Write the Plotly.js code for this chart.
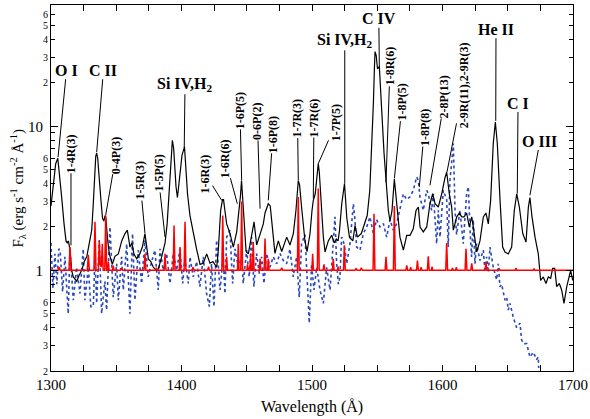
<!DOCTYPE html>
<html>
<head>
<meta charset="utf-8">
<script src="https://cdn.plot.ly/plotly-3.0.1.min.js"></script>
<style>html,body{margin:0;padding:0;background:#fff;}#chart{width:590px;height:419px;}</style>
</head>
<body>
<div id="chart"></div>
<script>
// ---- Observed spectrum (black, solid) ----
var obsWave = [1300.0,1302.0,1303.6,1305.2,1306.6,1308.2,1310.0,1311.5,1312.5,1313.3,1314.5,1315.8,1317.1,1319.7,1321.5,1323.5,1325.5,1327.4,1329.1,1330.5,1331.2,1332.4,1333.4,1334.3,1335.0,1335.8,1336.6,1337.5,1338.5,1339.5,1340.5,1341.4,1342.0,1343.5,1344.7,1347.0,1349.0,1351.6,1354.2,1356.7,1358.5,1360.5,1362.0,1363.5,1365.7,1368.0,1370.0,1372.0,1373.0,1374.6,1376.5,1378.4,1380.5,1382.2,1384.8,1387.4,1389.0,1390.0,1391.0,1392.0,1393.0,1394.0,1395.0,1395.8,1396.9,1398.4,1400.4,1402.3,1403.6,1404.6,1406.5,1409.0,1411.6,1414.2,1416.7,1419.3,1421.8,1424.1,1427.0,1428.2,1430.0,1431.4,1432.2,1433.5,1434.6,1437.2,1439.7,1442.3,1444.1,1445.2,1446.0,1447.1,1448.2,1449.5,1451.2,1453.8,1455.6,1457.6,1460.2,1462.7,1464.0,1466.5,1468.0,1469.1,1471.6,1474.2,1476.8,1480.6,1483.1,1485.7,1487.7,1489.5,1490.5,1492.1,1494.6,1496.2,1498.5,1500.0,1501.0,1502.5,1503.8,1504.8,1505.6,1506.7,1508.7,1510.0,1512.5,1515.1,1517.0,1518.6,1520.0,1521.1,1522.8,1524.9,1526.0,1526.7,1528.7,1531.3,1533.0,1534.8,1537.8,1540.3,1542.3,1544.3,1545.5,1546.3,1547.1,1547.8,1548.3,1549.2,1550.2,1551.6,1552.5,1553.4,1555.2,1556.7,1558.5,1559.8,1561.3,1563.1,1564.9,1567.4,1570.0,1572.6,1575.1,1577.6,1579.7,1581.5,1582.8,1585.3,1587.9,1590.4,1592.5,1594.3,1596.8,1599.4,1601.9,1603.2,1605.2,1607.0,1608.3,1610.9,1612.9,1614.7,1616.5,1618.5,1620.5,1622.4,1623.6,1626.2,1628.7,1631.3,1633.3,1635.1,1636.9,1638.9,1640.5,1642.0,1644.1,1646.1,1647.9,1650.4,1653.0,1655.0,1656.9,1658.9,1661.5,1664.0,1665.8,1667.0,1668.6,1670.9,1673.4,1675.2,1677.2,1679.3,1681.1,1682.9,1684.4,1686.0,1687.5,1689.5,1691.3,1693.1,1695.2,1696.9,1698.2,1699.8];
var obsFlux = [2.8,4.0,5.5,6.0,4.6,3.2,2.1,1.6,1.55,1.6,1.4,1.0,0.9,0.84,0.92,1.0,1.15,1.24,1.5,1.75,1.9,2.9,4.5,6.2,6.5,6.0,4.8,3.6,2.9,2.3,2.2,2.4,2.3,1.6,1.3,1.1,1.25,1.3,1.6,1.8,1.9,1.45,1.55,1.3,1.2,1.3,1.45,1.8,1.5,1.2,1.15,1.05,1.0,1.02,1.24,1.55,2.1,3.0,4.5,6.5,8.0,7.0,4.8,3.8,3.2,4.3,6.3,7.2,5.0,3.4,2.4,1.8,1.4,1.1,1.12,1.3,1.12,1.15,1.05,1.38,2.6,3.1,3.1,2.5,2.1,1.8,1.45,1.85,2.6,3.3,4.2,3.0,2.0,1.35,1.3,1.8,2.17,1.5,1.8,2.1,2.5,2.9,2.8,2.2,1.31,1.6,1.35,1.7,1.5,1.8,2.6,4.2,3.9,2.7,1.6,1.35,1.8,2.6,3.06,3.4,4.6,5.5,4.8,3.1,1.7,1.34,1.6,1.75,1.55,1.65,1.6,1.9,2.9,4.0,3.0,2.3,1.7,1.6,2.05,1.7,1.8,2.1,2.4,3.6,6.0,9.0,15,25,33,31,25,26,20,13,6.5,4.0,2.6,2.2,2.6,4.3,2.9,1.7,1.38,1.75,1.75,1.94,2.6,2.75,2.0,1.85,2.0,2.9,3.4,2.9,2.75,3.4,4.4,4.8,3.4,2.75,1.9,2.35,2.5,2.35,2.35,2.5,2.0,2.35,2.0,1.34,1.6,2.35,2.5,2.1,3.06,7.6,10.7,7.6,3.06,1.45,1.34,1.3,1.45,2.6,3.4,2.75,1.8,1.57,2.75,3.2,2.35,1.7,1.3,0.85,0.9,0.81,0.9,0.88,1.03,1.03,0.77,0.81,0.73,0.59,0.77,0.9,1.0,0.85];

// ---- Comparison spectrum (blue, dotted) ----
var cmpWave = [1300.0,1301.5,1303.0,1304.5,1306.0,1307.0,1308.9,1310.7,1313.2,1314.5,1317.1,1319.6,1322.2,1324.7,1326.0,1328.6,1330.5,1332.4,1333.7,1335.0,1337.0,1338.8,1341.3,1342.6,1345.2,1347.7,1350.3,1351.6,1354.1,1355.4,1358.0,1360.5,1362.5,1364.3,1366.9,1369.4,1372.0,1374.5,1377.1,1379.6,1382.2,1383.5,1386.0,1388.6,1391.2,1393.7,1396.3,1398.8,1400.9,1402.6,1405.2,1406.5,1409.0,1411.6,1414.1,1416.7,1419.2,1421.3,1423.0,1424.9,1426.9,1429.5,1432.0,1433.3,1434.6,1437.1,1439.2,1441.0,1443.5,1446.1,1447.3,1449.9,1451.9,1453.7,1455.5,1457.5,1459.6,1461.4,1463.2,1465.2,1467.8,1470.3,1472.9,1475.4,1478.0,1480.5,1483.1,1485.6,1488.2,1490.2,1492.0,1494.6,1497.1,1497.9,1499.7,1501.5,1503.6,1506.1,1508.7,1511.2,1513.8,1516.3,1517.6,1518.9,1520.2,1521.4,1522.7,1524.0,1525.3,1526.6,1529.1,1531.7,1532.9,1534.2,1536.8,1539.3,1541.9,1544.4,1547.0,1549.5,1552.1,1554.7,1557.2,1559.8,1562.3,1564.9,1567.4,1570.0,1572.5,1575.1,1577.6,1580.2,1581.5,1582.7,1585.3,1587.9,1589.1,1591.7,1593.0,1595.5,1596.8,1598.1,1600.6,1603.2,1604.4,1605.7,1607.0,1608.3,1609.6,1610.8,1613.4,1615.9,1618.5,1619.8,1621.1,1622.3,1623.6,1624.9,1626.1,1628.7,1631.3,1632.5,1633.8,1635.1,1636.4,1638.9,1641.5,1642.8,1644.0,1645.3,1647.9,1649.2,1650.4,1651.7,1654.3,1656.8,1659.4,1660.6,1661.9,1664.5,1667.0,1669.6,1672.1,1673.4,1673.7];
var cmpFlux = [1.55,0.75,1.3,0.8,1.41,1.38,0.71,1.24,0.50,1.41,0.62,1.05,0.69,1.41,0.62,1.05,0.56,0.56,1.24,0.59,1.62,0.50,0.84,0.53,2.0,0.65,1.11,0.62,1.24,0.73,1.53,0.50,1.80,0.62,1.38,0.81,1.62,0.90,1.15,1.38,0.73,1.41,1.0,1.31,0.81,1.31,1.0,1.41,0.81,1.20,0.81,1.24,0.90,1.15,0.77,1.24,0.69,0.56,1.11,0.56,1.62,0.73,1.24,0.69,1.70,1.90,0.81,1.41,1.05,1.24,0.81,1.38,0.90,1.70,0.77,1.31,0.95,1.24,0.81,1.31,1.05,1.24,1.11,1.31,1.17,1.11,1.41,0.90,1.24,0.65,1.53,1.77,0.62,0.43,1.11,0.73,1.05,0.73,0.59,1.05,0.73,1.70,2.35,1.11,0.80,0.90,1.70,1.60,1.38,1.11,1.53,2.90,2.25,1.45,1.38,1.80,2.0,2.35,1.80,2.25,2.0,2.11,1.70,2.25,1.90,2.11,2.61,3.4,3.1,3.23,3.59,4.45,4.2,3.23,2.61,3.59,3.4,2.61,3.4,1.53,2.61,1.70,3.59,3.1,1.45,4.2,5.6,7.6,2.61,1.77,2.61,1.53,3.4,3.8,1.90,1.24,2.25,1.11,1.53,1.17,1.38,0.97,1.24,0.97,1.45,1.05,0.86,1.11,0.77,0.80,0.62,0.65,0.53,0.59,0.47,0.40,0.43,0.33,0.31,0.31,0.25,0.27,0.24,0.25,0.21];

// ---- Model H2 spectrum (red, solid) ----
var modWave = [1300.0,1305.5,1306.3,1307.0,1313.8,1314.6,1315.4,1327.8,1328.6,1329.4,1332.9,1333.7,1334.5,1336.3,1337.0,1337.7,1338.6,1339.3,1340.0,1341.2,1341.9,1342.6,1343.3,1343.9,1344.5,1347.1,1347.7,1348.3,1353.0,1354.0,1355.0,1371.3,1372.0,1372.7,1380.0,1380.8,1381.6,1386.7,1387.4,1388.1,1393.6,1394.3,1395.0,1398.3,1398.9,1399.5,1402.0,1402.7,1403.4,1408.0,1408.8,1409.6,1420.0,1420.7,1421.4,1430.9,1431.6,1432.3,1434.0,1434.6,1435.2,1442.9,1443.5,1444.1,1445.4,1446.1,1446.8,1450.0,1450.6,1451.2,1452.4,1453.0,1453.6,1454.4,1455.0,1455.6,1459.6,1460.2,1460.8,1463.3,1464.0,1464.7,1465.9,1466.5,1467.1,1476.0,1476.8,1477.6,1488.8,1489.5,1490.2,1499.9,1500.5,1501.1,1504.1,1504.8,1505.5,1508.5,1509.2,1509.9,1515.7,1516.3,1516.9,1519.5,1520.0,1520.6,1524.1,1524.8,1525.5,1533.0,1533.8,1534.6,1537.0,1537.8,1538.6,1546.8,1547.5,1548.2,1556.0,1556.7,1557.4,1562.4,1563.1,1563.8,1571.9,1572.6,1573.3,1575.0,1575.6,1576.2,1580.1,1580.8,1581.5,1583.0,1583.6,1584.2,1588.4,1589.1,1589.8,1591.5,1592.0,1592.5,1602.5,1603.2,1603.9,1607.0,1607.6,1608.2,1610.0,1610.6,1611.2,1617.3,1618.0,1618.7,1621.7,1622.4,1623.1,1632.6,1633.3,1634.0,1643.0,1643.6,1644.2,1655.7,1656.3,1656.9,1669.5,1670.1,1670.7,1700.0];
var modFlux = [1.0,1.0,1.05,1.0,1.0,1.45,1.0,1.0,1.28,1.0,1.0,2.17,1.0,1.0,1.6,1.1,1.05,1.53,1.0,1.0,2.4,1.0,1.0,1.15,1.0,1.0,1.08,1.0,1.0,1.03,1.0,1.0,1.3,1.0,1.0,1.04,1.0,1.0,1.3,1.0,1.0,2.05,1.0,1.0,1.45,1.0,1.0,2.17,1.0,1.0,1.05,1.0,1.0,1.06,1.0,1.0,2.4,1.0,1.0,1.24,1.0,1.0,1.53,1.0,1.0,3.0,1.0,1.0,1.1,1.0,1.0,1.3,1.0,1.0,1.57,1.0,1.0,1.2,1.0,1.0,1.66,1.0,1.0,1.2,1.0,1.0,1.04,1.0,1.0,3.23,1.0,1.0,1.3,1.0,1.0,3.7,1.0,1.0,1.1,1.0,1.0,1.2,1.0,1.0,1.06,1.0,1.0,1.49,1.0,1.0,1.03,1.0,1.0,1.04,1.0,1.0,2.47,1.0,1.0,1.24,1.0,1.0,2.8,1.0,1.0,1.08,1.0,1.0,1.05,1.0,1.0,1.17,1.0,1.0,1.05,1.0,1.0,1.25,1.0,1.0,1.06,1.0,1.0,1.55,1.0,1.0,1.04,1.0,1.0,1.05,1.0,1.0,1.41,1.0,1.0,1.12,1.0,1.0,1.14,1.0,1.0,1.02,1.0,1.0,1.04,1.0,1.0,1.03,1.0,1.0];

// ---- Axis ticks ----
var xTickVals = [1300,1400,1500,1600,1700];
var xTickText = ['1300','1400','1500','1600','1700'];
var yMajorVals = [1,10];
var yMajorText = ['1','10'];
var yMinorVals = [0.2,0.3,0.4,0.5,0.6,2,3,4,5,6,20,30,40,50,60];
var yMinorText = ['2','3','4','5','6','2','3','4','5','6','2','3','4','5','6'];
var yUnlabeledVals = [0.7,0.8,0.9,7,8,9];

// ---- Line identifications: [text, label wavelength, label flux, tip wavelength, tip flux, rotated] ----
var lineLabels = [
  ['O I',1311.9,24.5,1305.4,6.1,false],
  ['C II',1340.2,24.5,1335.0,6.6,false],
  ['Si IV,H<sub>2</sub>',1402.7,19.6,1402.1,7.1,false],
  ['Si IV,H<sub>2</sub>',1525.1,39.5,1525.1,4.0,false],
  ['C IV',1551.2,55.8,1551.6,25.6,false],
  ['He II',1641.0,47.2,1640.8,10.9,false],
  ['C I',1657.9,14.5,1657.3,3.41,false],
  ['O III',1674.7,7.9,1667.0,3.32,false],
  ['1-4R(3)',1315.3,6.5,1315.3,1.49,true],
  ['0-4P(3)',1349.8,6.3,1341.9,2.41,true],
  ['1-5R(3)',1368.2,4.2,1372.0,1.81,true],
  ['1-5P(5)',1382.0,4.7,1387.4,1.70,true],
  ['1-6R(3)',1418.0,4.7,1430.8,3.06,true],
  ['1-6R(6)',1433.3,6.0,1442.8,2.90,true],
  ['1-6P(5)',1444.8,12.9,1446.1,4.22,true],
  ['0-6P(2)',1458.2,10.8,1460.2,2.68,true],
  ['1-6P(8)',1470.1,8.8,1466.5,3.06,true],
  ['1-7R(3)',1488.9,11.4,1489.5,4.22,true],
  ['1-7R(6)',1501.5,11.5,1501.0,3.15,true],
  ['1-7P(5)',1518.4,10.5,1504.8,5.5,true],
  ['1-8R(6)',1559.8,26.1,1556.7,4.08,true],
  ['1-8P(5)',1569.3,14.7,1563.1,4.34,true],
  ['1-8P(8)',1586.2,9.8,1582.2,3.78,true],
  ['2-8P(13)',1601.9,16.1,1590.4,3.89,true],
  ['2-9R(11),2-9R(3)',1616.5,19.3,1603.4,4.8,true]
];

var FONT = 'Liberation Serif, Times New Roman, serif';

var annotations = lineLabels.map(function(l){
  return {
    text: '<b>' + l[0] + '</b>',
    xref: 'x', yref: 'y', axref: 'x', ayref: 'y',
    x: l[3], y: Math.log10(l[4]),
    ax: l[1], ay: Math.log10(l[2]),
    showarrow: true, arrowhead: 0, arrowwidth: 1, arrowcolor: '#000',
    standoff: 0, startstandoff: 0, borderpad: 0,
    textangle: l[5] ? -90 : 0,
    font: {family: FONT, size: l[5] ? 12 : 16, color: '#000'}
  };
});

// y-axis title, placed beside the axis
annotations.push({
  text: 'F<sub>λ</sub> (erg s<sup>-1</sup> cm<sup>-2</sup> Å<sup>-1</sup>)',
  xref: 'paper', yref: 'paper', x: -0.064, y: 0.5,
  xanchor: 'center', yanchor: 'middle', textangle: -90, showarrow: false,
  font: {family: FONT, size: 15, color: '#000'}
});

var traces = [
  {x: cmpWave, y: cmpFlux, type: 'scatter', mode: 'lines',
   line: {color: '#2a49b8', width: 1.6, dash: 'dot'}, hoverinfo: 'skip'},
  {x: obsWave, y: obsFlux, type: 'scatter', mode: 'lines',
   line: {color: '#000000', width: 1.2}, hoverinfo: 'skip'},
  {x: modWave, y: modFlux, type: 'scatter', mode: 'lines', yaxis: 'y2',
   line: {color: '#ff0000', width: 1.5}, hoverinfo: 'skip'}
];

var yRange = [Math.log10(0.2), 1.842];

var layout = {
  width: 590, height: 419,
  margin: {l: 51, r: 17, t: 5, b: 48},
  paper_bgcolor: '#fff', plot_bgcolor: '#fff',
  showlegend: false,
  font: {family: FONT, color: '#000'},
  xaxis: {
    range: [1300, 1700], tickvals: xTickVals, ticktext: xTickText,
    ticks: 'inside', ticklen: 6, tickwidth: 1, tickcolor: '#000',
    minor: {dtick: 25, tick0: 1300, ticks: 'inside', ticklen: 3, tickcolor: '#000', showgrid: false},
    showline: true, linecolor: '#000', linewidth: 1, mirror: 'allticks',
    showgrid: false, zeroline: false,
    tickfont: {family: FONT, size: 15, color: '#000'},
    title: {text: 'Wavelength (Å)', font: {family: FONT, size: 16, color: '#000'}, standoff: 8}
  },
  yaxis: {
    type: 'log', range: yRange, tickvals: yMajorVals, ticktext: yMajorText,
    ticks: 'inside', ticklen: 7, tickwidth: 1, tickcolor: '#000',
    minor: {tickmode: 'array', tickvals: yUnlabeledVals, ticks: 'inside', ticklen: 4, tickcolor: '#000', showgrid: false},
    showline: true, linecolor: '#000', linewidth: 1, mirror: 'allticks',
    showgrid: false, zeroline: false, ticklabelstandoff: 4,
    tickfont: {family: FONT, size: 15, color: '#000'}
  },
  yaxis2: {
    type: 'log', range: yRange, overlaying: 'y', anchor: 'x', side: 'left',
    tickvals: yMinorVals, ticktext: yMinorText,
    ticks: 'inside', ticklen: 4, tickwidth: 1, tickcolor: '#000',
    showline: true, linecolor: '#000', linewidth: 1, mirror: 'allticks',
    showgrid: false, zeroline: false,
    tickfont: {family: FONT, size: 10, color: '#000'}
  },
  annotations: annotations
};

Plotly.newPlot('chart', traces, layout, {staticPlot: true, displayModeBar: false});
</script>
</body>
</html>
